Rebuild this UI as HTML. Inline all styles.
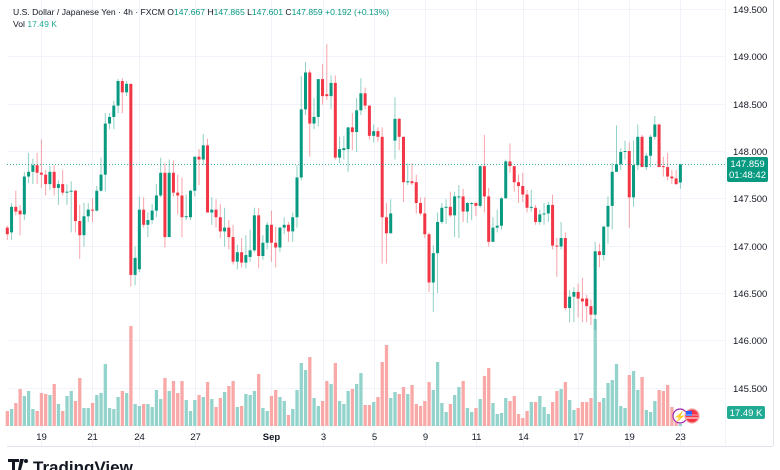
<!DOCTYPE html>
<html><head><meta charset="utf-8">
<style>
body{margin:0;background:#fff;width:780px;height:470px;overflow:hidden;font-family:"Liberation Sans",sans-serif;}
svg{display:block}
</style></head>
<body>
<svg id="chart" width="780" height="470" xmlns="http://www.w3.org/2000/svg">
  <rect x="0" y="0" width="780" height="470" fill="#ffffff"/>
  <g id="grid"></g>
  <g id="vols"></g>
  <g id="candles"></g>
  <g id="axes"></g>
  <line x1="7" y1="446.5" x2="773" y2="446.5" stroke="#e0e3eb" stroke-width="1"/>
  <line x1="773.5" y1="0" x2="773.5" y2="446" stroke="#e0e3eb" stroke-width="1"/>
  <line x1="725.5" y1="0" x2="725.5" y2="446" stroke="#f0f3fa" stroke-width="1"/>
  <text x="13" y="15" font-size="8.6" fill="#131722">U.S. Dollar / Japanese Yen · 4h · FXCM <tspan fill="#131722">O</tspan><tspan fill="#089981">147.667</tspan> <tspan fill="#131722">H</tspan><tspan fill="#089981">147.865</tspan> <tspan fill="#131722">L</tspan><tspan fill="#089981">147.601</tspan> <tspan fill="#131722">C</tspan><tspan fill="#089981">147.859 +0.192 (+0.13%)</tspan></text>
  <text x="13" y="27" font-size="8.6" fill="#131722">Vol <tspan fill="#22ab94">17.49 K</tspan></text>
  <g>
    <circle cx="680" cy="416" r="7" fill="#fff" stroke="#9c27b0" stroke-width="1.2"/>
    <text x="680" y="420" font-size="10" text-anchor="middle" fill="#9c27b0">⚡</text>
    <circle cx="692" cy="416" r="7" fill="#f23645" stroke="#f7a9a7" stroke-width="1.2"/>
    <rect x="686" y="411" width="6" height="5" fill="#2962ff"/>
    <line x1="686" y1="418" x2="698" y2="418" stroke="#fff" stroke-width="1"/>
    <line x1="686" y1="415" x2="698" y2="415" stroke="#fff" stroke-width="0.8" opacity="0.7"/>
  </g>
  <g>
    <rect x="727" y="157" width="41" height="25" rx="2" fill="#089981"/>
    <text x="747.5" y="167" font-size="9.5" text-anchor="middle" fill="#fff">147.859</text>
    <text x="747.5" y="178" font-size="9.5" text-anchor="middle" fill="#fff">01:48:42</text>
  </g>
  <g>
    <rect x="727" y="406" width="38" height="13" rx="2" fill="#22ab94"/>
    <text x="746" y="416" font-size="9.5" text-anchor="middle" fill="#fff">17.49 K</text>
  </g>
  <g>
    <path d="M8 459h11v3h-4v8h-3v-8h-4z M20 459h4l-3 11h-3z" fill="#131722"/>
    <circle cx="26" cy="461" r="2" fill="#131722"/>
    <text x="33" y="473" font-size="17" font-weight="bold" fill="#131722">TradingView</text>
  </g>
</svg>
<script>
const opens=[147.19,147.14,147.41,147.37,147.33,147.73,147.78,147.85,147.77,147.75,147.65,147.78,147.61,147.65,147.56,147.57,147.58,147.26,147.11,147.31,147.38,147.37,147.58,147.75,148.29,148.36,148.48,148.74,148.62,148.71,146.69,146.75,147.38,147.22,147.27,147.37,147.53,147.77,147.09,147.77,147.56,147.53,147.30,147.30,147.58,147.94,147.91,148.06,147.35,147.38,147.30,147.15,147.19,147.09,146.83,146.93,146.82,146.88,146.95,147.32,146.89,147.03,147.22,147.03,146.98,147.19,147.22,147.15,147.30,147.72,148.44,148.83,148.29,148.36,148.76,148.60,148.58,148.72,147.93,148.01,148.02,148.25,148.20,148.43,148.61,148.48,148.16,148.21,148.15,147.30,147.13,148.11,148.34,148.15,147.67,147.68,147.67,147.45,147.34,147.12,146.61,146.92,147.25,147.40,147.41,147.32,147.51,147.52,147.36,147.44,147.45,147.42,147.84,147.52,147.04,147.19,147.21,147.50,147.89,147.84,147.67,147.63,147.54,147.40,147.40,147.25,147.33,147.34,147.43,147.00,146.99,147.08,146.34,146.46,146.51,146.44,146.44,146.36,146.27,146.94,146.90,147.20,147.42,147.78,147.86,147.99,148.00,147.51,147.85,148.15,147.83,147.95,148.15,148.28,147.84,147.83,147.73,147.71,147.667];
const highs=[147.21,147.45,147.58,147.43,147.78,147.98,147.92,147.98,148.12,147.80,147.84,147.85,147.69,147.80,147.65,147.68,147.59,147.43,147.45,147.45,147.50,147.63,147.93,148.40,148.40,148.53,148.76,148.77,148.74,148.71,146.99,147.52,147.51,147.35,147.44,147.65,147.93,147.87,147.91,147.90,147.75,147.72,147.54,147.59,147.94,148.02,148.18,148.13,147.51,147.49,147.44,147.40,147.27,147.22,147.01,147.08,147.11,147.17,147.40,147.40,147.11,147.25,147.37,147.20,147.20,147.30,147.25,147.35,147.85,148.79,148.94,148.86,148.56,148.76,148.92,149.13,148.80,148.80,148.15,148.16,148.25,148.40,148.56,148.77,148.67,148.48,148.28,148.25,148.25,147.45,147.49,148.57,148.35,148.15,147.87,147.87,147.75,147.51,147.51,147.14,147.00,147.35,147.45,147.49,147.57,147.57,147.64,147.60,147.46,147.46,147.46,147.85,148.17,147.61,147.30,147.38,147.51,147.91,148.08,147.84,147.75,147.77,147.59,147.59,147.43,147.38,147.45,147.46,147.54,147.08,147.25,147.14,146.53,146.56,146.60,146.66,146.48,146.43,147.04,147.02,147.21,147.52,147.87,148.27,148.03,148.11,148.09,148.11,148.28,148.17,147.98,148.17,148.37,148.29,147.94,147.98,147.80,147.80,147.865];
const lows=[147.06,147.06,147.32,147.11,147.27,147.66,147.65,147.65,147.61,147.53,147.59,147.53,147.43,147.53,147.43,147.14,147.14,146.86,146.99,147.25,147.25,147.36,147.57,147.57,148.23,148.23,148.40,148.40,148.58,146.57,146.58,146.72,147.19,147.09,147.23,147.30,147.51,146.98,147.09,147.52,147.33,147.09,147.27,147.27,147.52,147.64,147.85,147.35,147.22,147.19,147.08,146.99,146.96,146.80,146.75,146.77,146.76,146.83,146.93,146.76,146.85,146.96,146.83,146.77,146.93,147.12,147.04,147.04,147.19,147.69,148.38,147.94,148.23,148.26,148.49,148.54,148.44,147.91,147.87,147.91,147.78,148.01,147.99,148.38,148.44,148.12,148.09,148.10,146.81,146.81,147.13,147.91,148.01,147.46,147.64,147.64,147.34,147.32,147.08,146.51,146.30,146.50,147.23,147.23,147.30,147.09,147.08,147.25,147.24,147.27,147.31,147.40,147.35,146.99,147.04,147.14,147.17,147.50,147.77,147.57,147.45,147.46,147.35,147.36,147.22,147.22,147.22,147.25,146.96,146.67,146.96,146.32,146.19,146.19,146.24,146.19,146.19,146.16,146.11,146.77,146.84,147.02,147.17,147.78,147.80,147.91,147.19,147.41,147.80,147.83,147.80,147.83,148.12,147.83,147.73,147.69,147.65,147.64,147.601];
const closes=[147.12,147.41,147.36,147.33,147.73,147.78,147.85,147.77,147.75,147.65,147.78,147.61,147.65,147.56,147.57,147.58,147.26,147.11,147.31,147.38,147.37,147.58,147.75,148.29,148.36,148.48,148.74,148.62,148.71,146.69,146.87,147.38,147.22,147.27,147.37,147.53,147.77,147.09,147.77,147.56,147.53,147.30,147.31,147.58,147.94,147.91,148.06,147.35,147.38,147.30,147.15,147.19,147.09,146.83,146.93,146.82,146.90,146.95,147.32,146.89,147.03,147.22,147.03,146.98,147.19,147.22,147.15,147.30,147.72,148.44,148.83,148.29,148.36,148.76,148.58,148.58,148.72,147.93,148.02,148.03,148.25,148.20,148.43,148.61,148.48,148.16,148.21,148.15,147.30,147.13,147.34,148.34,148.15,147.67,147.68,147.66,147.45,147.34,147.12,146.61,146.92,147.25,147.40,147.41,147.32,147.52,147.52,147.36,147.45,147.45,147.42,147.84,147.52,147.04,147.19,147.21,147.50,147.89,147.84,147.67,147.63,147.54,147.40,147.41,147.25,147.33,147.34,147.43,147.00,146.99,147.08,146.34,146.46,146.51,146.44,146.41,146.36,146.27,146.94,146.90,147.20,147.42,147.78,147.86,147.99,148.00,147.51,147.85,148.15,147.83,147.95,148.15,148.28,147.83,147.83,147.73,147.71,147.65,147.859];
const volumesK=[15,17,23,37,30,35,17,15,33,32,31,42,22,15,30,35,25,48,18,18,23,31,33,62,18,17,29,35,33,100,22,20,22,22,19,36,27,48,35,45,33,45,26,15,26,31,29,44,27,19,28,34,40,45,19,20,32,31,35,52,18,15,30,36,29,25,11,17,36,63,56,69,28,20,25,45,42,63,25,22,35,37,42,53,21,21,24,29,64,81,28,34,32,39,32,41,22,20,25,44,36,64,23,14,22,31,39,45,18,14,18,27,50,58,23,12,13,28,25,30,12,8,15,24,24,30,19,12,24,35,37,44,26,16,18,24,24,28,107,24,28,43,46,62,20,18,51,55,36,49,16,14,25,36,35,41,19,11,2];
const priceTicks=[149.5,149.0,148.5,148.0,147.5,147.0,146.5,146.0,145.5];
const dayLabels=["19","21","24","27","Sep","3","5","9","11","14","17","19","23"];
const dayCandleIdx=[8,20,31,44,62,74,86,98,110,121,134,146,158];
const lastPrice=147.859;

const NS="http://www.w3.org/2000/svg";
function xOf(i){return 7.3+i*4.26;}
function yOf(p){return 151+(148-p)*94.6;}
function vH(v){return v*1.0;}
const VOL_BASE=426;
function mk(tag,attrs,parent){const e=document.createElementNS(NS,tag);for(const k in attrs)e.setAttribute(k,attrs[k]);parent.appendChild(e);return e;}

const grid=document.getElementById('grid');
const axes=document.getElementById('axes');
priceTicks.forEach((p,k)=>{
  const y=Math.round(yOf(p))+0.5;
  const gl=mk('line',{x1:7,y1:y,x2:725,y2:y,stroke:'#f0f3fa','stroke-width':1},grid);
  
  
  const t=mk('text',{x:733,y:y+3.5,'font-size':9.5,fill:'#131722'},axes);
  t.textContent=p.toFixed(3);
  
  
});
dayLabels.forEach((d,k)=>{
  const x=Math.round(xOf(dayCandleIdx[k]))+0.5;
  const gl=mk('line',{x1:x,y1:0,x2:x,y2:446,stroke:'#f0f3fa','stroke-width':1},grid);
  
  
  const t=mk('text',{x:x,y:440,'font-size':9.5,'text-anchor':'middle',fill:'#131722','font-weight':d==='Sep'?'bold':'normal'},axes);
  t.textContent=d;
  
  
});

const vols=document.getElementById('vols');
volumesK.forEach((v,i)=>{
  const up=closes[i]>=opens[i];
  const h=vH(v);
  const r=mk('rect',{x:xOf(i)-1.6,y:VOL_BASE-h,width:3.3,height:h,fill:up?'#93d3cb':'#f8a9a7'},vols);
  
  
});

const cg=document.getElementById('candles');
opens.forEach((o,i)=>{
  const c=closes[i],up=c>=o,col=up?'#089981':'#f23645';
  const x=xOf(i);
  const w=mk('line',{x1:x,y1:yOf(highs[i]),x2:x,y2:yOf(lows[i]),stroke:col,'stroke-width':1,opacity:0.45},cg);
  
  
  const top=yOf(Math.max(o,c)),bot=yOf(Math.min(o,c));
  const b=mk('rect',{x:x-1.5,y:top,width:3,height:Math.max(1,bot-top),fill:col},cg);
  
  
});
const ly=Math.round(yOf(lastPrice))+0.5;
const pl=mk('line',{x1:7,y1:ly,x2:726,y2:ly,stroke:'#089981','stroke-width':1,'stroke-dasharray':'1 2',opacity:0.8},axes);


</script>
</body></html>
